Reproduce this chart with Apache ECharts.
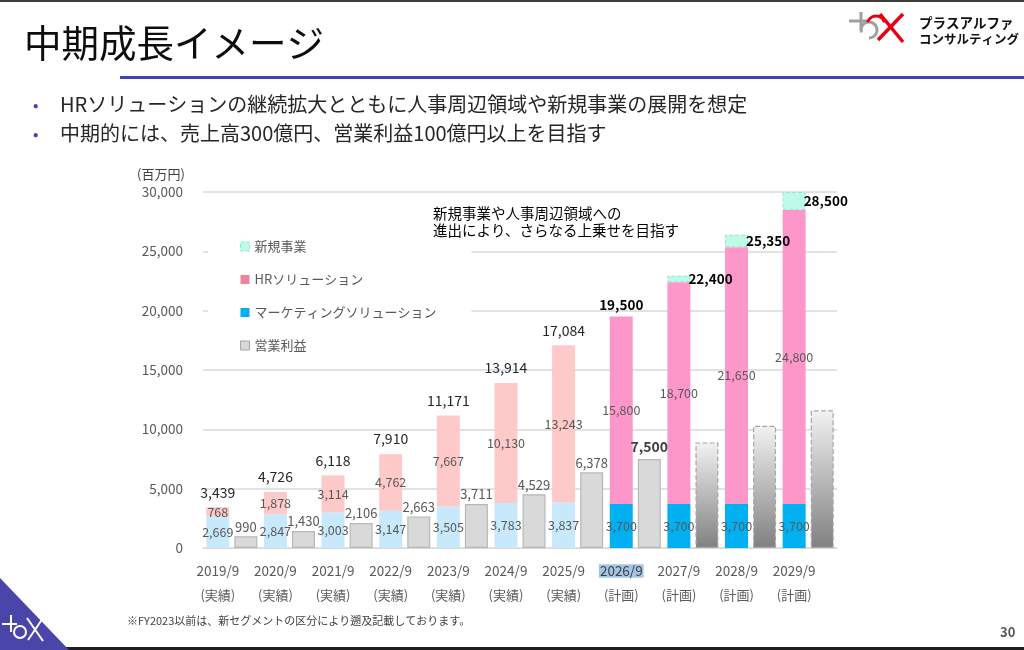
<!DOCTYPE html>
<html>
<head>
<meta charset="utf-8">
<script src="https://cdn.jsdelivr.net/npm/echarts@6/dist/echarts.min.js"></script>
<style>
html,body{margin:0;padding:0;background:#fff;}
#chart{width:1024px;height:650px;}
</style>
</head>
<body>
<div id="chart"></div>
<script>
// ---- data ----
const years = ['2019/9','2020/9','2021/9','2022/9','2023/9','2024/9','2025/9','2026/9','2027/9','2028/9','2029/9'];
const status = ['実績','実績','実績','実績','実績','実績','実績','計画','計画','計画','計画'];
const marketing = [2669, 2847, 3003, 3147, 3505, 3783, 3837, 3700, 3700, 3700, 3700];
const hrSolution = [768, 1878, 3114, 4762, 7667, 10130, 13243, 15800, 18700, 21650, 24800];
const newBusiness = [0, 0, 0, 0, 0, 0, 0, 0, 550, 1050, 1500];
const revenueTotal = [3439, 4726, 6118, 7910, 11171, 13914, 17084, 19500, 22400, 25350, 28500];
const profit = [990, 1430, 2106, 2663, 3711, 4529, 6378, 7500, 8900, 10300, 11600];
const profitLabeled = [true, true, true, true, true, true, true, true, false, false, false];
const yTicks = [0, 5000, 10000, 15000, 20000, 25000, 30000];

const FONT = '"Noto Sans CJK JP", "Noto Sans", sans-serif';
const fmt = v => Number(v).toLocaleString('en-US');
const isPlan = i => status[i] === '計画';

const segLabel = {show: true, position: 'inside', color: '#595959', fontSize: 12.5, fontFamily: FONT, formatter: p => fmt(p.value)};

const mkData = marketing.map((v, i) => ({value: v, itemStyle: {color: isPlan(i) ? '#00b0f0' : '#c8e8fb'}}));
const hrData = hrSolution.map((v, i) => ({value: v, itemStyle: {color: isPlan(i) ? '#fd97c9' : '#fdc9c9'}}));
const nbData = newBusiness.map((v, i) => {
  const planWithNew = isPlan(i) && v > 0;
  return {
    value: v,
    itemStyle: v > 0 ? {color: '#bdfae7', borderColor: '#95e6d2', borderWidth: 1, borderType: 'dashed'} : {color: 'transparent'},
    label: {
      show: true,
      position: planWithNew ? 'right' : 'top',
      distance: planWithNew ? -2 : (isPlan(i) ? 5 : 8),
      fontWeight: isPlan(i) ? 'bold' : 'normal',
      fontSize: isPlan(i) ? 13.5 : 14,
      color: isPlan(i) ? '#000' : '#262626',
      fontFamily: FONT,
      formatter: () => fmt(revenueTotal[i])
    }
  };
});
const profitData = profit.map((v, i) => {
  const dashedPlan = isPlan(i) && !profitLabeled[i];
  return {
    value: v,
    itemStyle: dashedPlan ? {
      color: new echarts.graphic.LinearGradient(0, 0, 0, 1, [{offset: 0, color: '#f2f2f2'}, {offset: 1, color: '#808080'}]),
      borderColor: '#a6a6a6', borderWidth: 1.2, borderType: 'dashed'
    } : {color: '#d9d9d9', borderColor: '#b8b8b8', borderWidth: 1.2},
    label: {
      show: profitLabeled[i], position: 'top', distance: isPlan(i) ? 5 : 3,
      fontWeight: isPlan(i) ? 'bold' : 'normal', fontSize: isPlan(i) ? 14 : 13,
      color: isPlan(i) ? '#404040' : '#595959', fontFamily: FONT,
      formatter: p => fmt(p.value)
    }
  };
});

const chart = echarts.init(document.getElementById('chart'));
const option = {
  animation: false,
  backgroundColor: '#fff',
  textStyle: {fontFamily: FONT},
  grid: {left: 203, right: 187, top: 192, bottom: 102, containLabel: false},
  legend: {
    orient: 'vertical', left: 208, top: 230,
    backgroundColor: '#fff', padding: [10, 35, 8, 32],
    itemWidth: 9, itemHeight: 9, itemGap: 20, selectedMode: false,
    textStyle: {color: '#595959', fontSize: 13, fontFamily: FONT},
    data: [
      {name: '新規事業', icon: 'rect', itemStyle: {color: '#bdfae7', borderColor: '#95e6d2', borderWidth: 1, borderType: 'dashed'}},
      {name: 'HRソリューション', icon: 'rect', itemStyle: {color: '#e9849f'}},
      {name: 'マーケティングソリューション', icon: 'rect', itemStyle: {color: '#00b0f0'}},
      {name: '営業利益', icon: 'rect', itemStyle: {color: '#d9d9d9', borderColor: '#a6a6a6', borderWidth: 1}}
    ]
  },
  xAxis: {
    type: 'category', data: years,
    axisLine: {show: true, lineStyle: {color: '#d9d9d9', width: 1}},
    axisTick: {show: false},
    axisLabel: {
      interval: 0, margin: 13, padding: [0, 28, 0, 0],
      formatter: (v, i) => (v === '2026/9' ? '{hl|' + v + '}' : '{y|' + v + '}') + '\n{s|(' + status[i] + ')}',
      rich: {
        y: {fontSize: 13.5, color: '#595959', lineHeight: 20, fontFamily: FONT},
        hl: {fontSize: 13.5, color: '#404040', lineHeight: 20, fontFamily: FONT, backgroundColor: '#a4c6e4', padding: [0, 1, 0, 1]},
        s: {fontSize: 13, color: '#595959', lineHeight: 28, fontFamily: FONT}
      }
    }
  },
  yAxis: {
    type: 'value', min: yTicks[0], max: yTicks[yTicks.length - 1], interval: yTicks[1] - yTicks[0],
    axisLine: {show: false}, axisTick: {show: false},
    splitLine: {lineStyle: {color: '#d9d9d9', width: 1.5}},
    axisLabel: {margin: 20, color: '#595959', fontSize: 13.5, fontFamily: FONT, formatter: v => fmt(v)}
  },
  series: [
    {name: 'マーケティングソリューション', type: 'bar', stack: 'rev', barWidth: 23, barGap: '22%', data: mkData, label: segLabel, itemStyle: {color: '#00b0f0'}},
    {name: 'HRソリューション', type: 'bar', stack: 'rev', barWidth: 23, data: hrData, label: segLabel, itemStyle: {color: '#e9849f'}},
    {name: '新規事業', type: 'bar', stack: 'rev', barWidth: 23, data: nbData, itemStyle: {color: '#bdfae7'}},
    {name: '営業利益', type: 'bar', barWidth: 23, barGap: '22%', data: profitData, itemStyle: {color: '#d9d9d9'}}
  ],
  graphic: [
    {type: 'rect', left: 0, top: 0, shape: {width: 1024, height: 2}, style: {fill: '#3c3c3c'}, silent: true},
    {type: 'rect', left: 0, top: 647, shape: {width: 1024, height: 3}, style: {fill: '#1e1e1e'}, silent: true},
    {type: 'text', x: 24, y: 43, style: {text: '中期成長イメージ', font: '37.5px ' + FONT, fill: '#0d0d0d', textVerticalAlign: 'middle'}},
    {type: 'rect', shape: {x: 120, y: 76, width: 904, height: 3}, style: {fill: '#4141c2'}},
    {type: 'text', x: 33, y: 105, style: {text: '•', font: '16px ' + FONT, fill: '#4141c2', textVerticalAlign: 'middle'}},
    {type: 'text', x: 60, y: 104, style: {text: 'HRソリューションの継続拡大とともに人事周辺領域や新規事業の展開を想定', font: '20px ' + FONT, fill: '#262626', textVerticalAlign: 'middle'}},
    {type: 'text', x: 33, y: 134, style: {text: '•', font: '16px ' + FONT, fill: '#4141c2', textVerticalAlign: 'middle'}},
    {type: 'text', x: 60, y: 133, style: {text: '中期的には、売上高300億円、営業利益100億円以上を目指す', font: '20px ' + FONT, fill: '#262626', textVerticalAlign: 'middle'}},
    {type: 'text', x: 137, y: 174, style: {text: '(百万円)', font: '13px ' + FONT, fill: '#404040', textVerticalAlign: 'middle'}},
    {type: 'text', z: 100, x: 433, y: 213, style: {text: '新規事業や人事周辺領域への', font: '14.5px ' + FONT, fill: '#000', textVerticalAlign: 'middle'}},
    {type: 'text', z: 100, x: 433, y: 230, style: {text: '進出により、さらなる上乗せを目指す', font: '14.5px ' + FONT, fill: '#000', textVerticalAlign: 'middle'}},
    {type: 'text', x: 127, y: 621, style: {text: '※FY2023以前は、新セグメントの区分により遡及記載しております。', font: '11px ' + FONT, fill: '#404040', textVerticalAlign: 'middle'}},
    {type: 'text', x: 1000, y: 632, style: {text: '30', font: 'bold 13px ' + FONT, fill: '#595959', textVerticalAlign: 'middle'}},
    // top-right logo
    {type: 'line', shape: {x1: 849, y1: 21, x2: 867, y2: 21}, style: {stroke: '#a0a0a0', lineWidth: 3}},
    {type: 'line', shape: {x1: 861, y1: 12, x2: 861, y2: 30}, style: {stroke: '#a0a0a0', lineWidth: 3}},
    {type: 'arc', shape: {cx: 869, cy: 30, r: 8, startAngle: Math.PI * 0.9, endAngle: Math.PI * 2.5}, style: {stroke: '#a0a0a0', lineWidth: 3, fill: null}},
    {type: 'line', shape: {x1: 880, y1: 14, x2: 903, y2: 42}, style: {stroke: '#e60012', lineWidth: 3.5}},
    {type: 'line', shape: {x1: 903, y1: 14, x2: 878, y2: 40}, style: {stroke: '#e60012', lineWidth: 3.5}},
    {type: 'arc', shape: {cx: 876, cy: 25, r: 9, startAngle: Math.PI * 1.1, endAngle: Math.PI * 1.9}, style: {stroke: '#e60012', lineWidth: 3, fill: null}},
    {type: 'text', x: 919, y: 23, style: {text: 'プラスアルファ', font: 'bold 13.5px ' + FONT, fill: '#111', textVerticalAlign: 'middle'}},
    {type: 'text', x: 919, y: 39, style: {text: 'コンサルティング', font: 'bold 12.5px ' + FONT, fill: '#111', textVerticalAlign: 'middle'}},
    // bottom-left corner
    {type: 'polygon', shape: {points: [[0, 578], [0, 650], [69, 650]]}, style: {fill: '#4a46a9'}},
    {type: 'line', shape: {x1: 2, y1: 624, x2: 17, y2: 624}, style: {stroke: '#fff', lineWidth: 2}},
    {type: 'line', shape: {x1: 11, y1: 615, x2: 11, y2: 632}, style: {stroke: '#fff', lineWidth: 2}},
    {type: 'circle', shape: {cx: 20, cy: 632, r: 6}, style: {stroke: '#fff', lineWidth: 2, fill: null}},
    {type: 'line', shape: {x1: 27, y1: 618, x2: 43, y2: 641}, style: {stroke: '#fff', lineWidth: 2}},
    {type: 'line', shape: {x1: 43, y1: 618, x2: 28, y2: 640}, style: {stroke: '#fff', lineWidth: 2}}
  ]
};
chart.setOption(option);
</script>
</body>
</html>
